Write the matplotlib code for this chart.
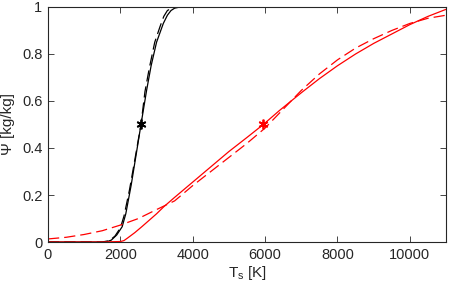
import numpy as np
from matplotlib import pyplot as plt

plt.rcParams['font.family'] = ['Liberation Sans', 'DejaVu Sans']
plt.rcParams['mathtext.fontset'] = 'custom'
plt.rcParams['mathtext.rm'] = 'Liberation Sans'
plt.rcParams['mathtext.it'] = 'Liberation Sans'

# black curves
T_black = [0, 1600, 1750, 1900, 2050, 2150, 2300, 2450, 2570, 2727, 2850,
           3000, 3187, 3300, 3400, 3500, 3650, 11000]
psi_black = [0, 0, 0.008, 0.03, 0.065, 0.12, 0.243, 0.385, 0.5, 0.647, 0.75,
             0.85, 0.93, 0.965, 0.985, 0.995, 1.0, 1.0]

T_black_d = [0, 1500, 1700, 1850, 2000, 2100, 2250, 2400, 2570, 2680, 2800,
             2950, 3095, 3200, 3300, 3450, 3600, 11000]
psi_black_d = [0, 0, 0.006, 0.025, 0.06, 0.11, 0.22, 0.35, 0.5, 0.64, 0.74,
               0.85, 0.916, 0.96, 0.985, 0.998, 1.0, 1.0]

# red curves
T_red = [0, 1500, 2000, 2100, 2200, 2400, 2600, 2800, 3000, 3200, 3500, 4000,
         4500, 5000, 5500, 5950, 6400, 7000, 7500, 8000, 8500, 9000, 9500,
         10000, 10500, 11000]
psi_red = [0, 0, 0.002, 0.006, 0.017, 0.04, 0.066, 0.093, 0.12, 0.15, 0.19,
           0.255, 0.32, 0.385, 0.445, 0.5, 0.56, 0.635, 0.695, 0.75, 0.80,
           0.845, 0.885, 0.925, 0.96, 0.99]

T_red_d = [0, 500, 1000, 1500, 2000, 2500, 3000, 3500, 4000, 4500, 5000, 5500,
           6000, 6500, 7000, 7500, 8000, 8500, 9000, 9500, 10000, 10500, 11000]
psi_red_d = [0.013, 0.02, 0.032, 0.048, 0.072, 0.1, 0.138, 0.175, 0.24, 0.3,
             0.36, 0.42, 0.485, 0.565, 0.645, 0.715, 0.775, 0.825, 0.865, 0.9,
             0.93, 0.952, 0.965]

# half-value markers
T_half = [2570, 5940]
psi_half = [0.5, 0.5]

fig = plt.figure(figsize=(4.51, 2.90), dpi=100)
ax = fig.add_axes([0.1064, 0.1655, 0.8826, 0.8104])

ax.plot(T_black, psi_black, color='k', lw=0.9)
ax.plot(T_black_d, psi_black_d, color='k', lw=0.9, dashes=(9, 4))
ax.plot(T_red, psi_red, color='r', lw=0.9)
ax.plot(T_red_d, psi_red_d, color='r', lw=0.9, dashes=(9, 4))

ast = (6, 2, 0)
ax.plot(T_half[0], psi_half[0], marker=ast, color='k', ms=7, mew=1.3, ls='none')
ax.plot(T_half[1], psi_half[1], marker=ast, color='r', ms=7, mew=1.3, ls='none')

ax.set_xlim(0, 11000)
ax.set_ylim(0, 1)
ax.set_xticks([0, 2000, 4000, 6000, 8000, 10000])
ax.set_yticks([0, 0.2, 0.4, 0.6, 0.8, 1])
ax.set_yticklabels(['0', '0.2', '0.4', '0.6', '0.8', '1'])

edge = '#262626'
for s in ax.spines.values():
    s.set_color(edge)
    s.set_linewidth(0.8)
ax.tick_params(direction='in', length=4, width=0.6, top=True, right=True,
               colors=edge, labelsize=10.5, pad=4)

ax.set_xlabel(r'$\mathregular{T_s}$ [K]', fontsize=11, color=edge, labelpad=2)
ax.set_ylabel('\u03a8 [kg/kg]', fontsize=11, color=edge, labelpad=5)

fig.savefig('out.png', dpi=100)
